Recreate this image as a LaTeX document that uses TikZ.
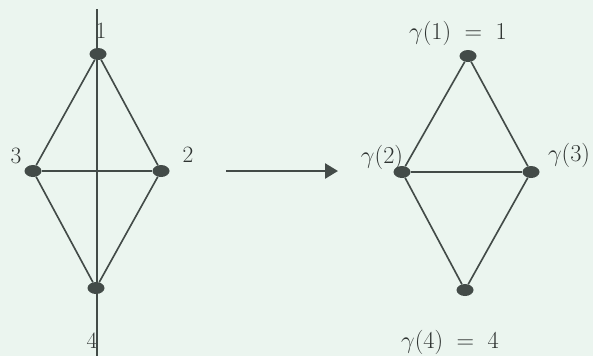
\documentclass[tikz,border=0pt]{standalone}
\usepackage{amsmath}
\usepackage{amssymb}
\usetikzlibrary{shapes.geometric}
\usetikzlibrary{arrows.meta}

\definecolor{bgmint}{HTML}{EBF5EF}
\definecolor{edgegray}{HTML}{434B48}
\definecolor{labgray}{HTML}{2E3331}

\begin{document}
\begin{tikzpicture}[x=0.03cm, y=-0.03cm,
	vertex/.style={ellipse, fill=edgegray, minimum width=0.51cm, minimum height=0.36cm, inner sep=0pt},
	edge/.style={edgegray, line width=1.4pt},
	lab/.style={labgray, font=\fontsize{20}{22}\selectfont, inner sep=0pt},
	mlab/.style={labgray, font=\fontsize{21}{23}\selectfont, inner sep=0pt}]
	\fill[bgmint] (0,0) rectangle (593,356);
	\useasboundingbox (0,0) rectangle (593,356);
	% left graph
	\node[vertex] (a1) at (98,54) {};
	\node[vertex] (a2) at (161,171) {};
	\node[vertex] (a3) at (33,171) {};
	\node[vertex] (a4) at (96,288) {};
	\coordinate (top) at (97,9);
	\coordinate (bot) at (97,356);
	\node[lab] (l1) at (101,31) {1};
	\node[lab] (l2) at (188,155) {2};
	\node[lab] (l3) at (16,156) {3};
	\node[lab] (l4) at (92,341) {4};
	\draw[edge] (a1) -- (a3) -- (a4) -- (a2) -- (a1);
	\draw[edge] (a3) -- (a2);
	\draw[edge] (top) -- (bot);
	% right graph
	\node[vertex] (b1) at (468,56) {};
	\node[vertex] (b2) at (402,172) {};
	\node[vertex] (b3) at (531,172) {};
	\node[vertex] (b4) at (465,290) {};
	\node[mlab] (m1) at (458,33) {$\gamma(1)\;=\;1$};
	\node[mlab] (m2) at (382,157) {$\gamma(2)$};
	\node[mlab] (m3) at (569,155) {$\gamma(3)$};
	\node[mlab] (m4) at (450,342) {$\gamma(4)\;=\;4$};
	\draw[edge] (b1) -- (b2) -- (b4) -- (b3) -- (b1);
	\draw[edge] (b2) -- (b3);
	% map arrow
	\coordinate (s) at (226,171);
	\coordinate (t) at (338,171);
	\draw[edge, line width=2.2pt, -{Triangle[length=0.39cm, width=0.45cm]}] (s) -- (t);
\end{tikzpicture}
\end{document}
